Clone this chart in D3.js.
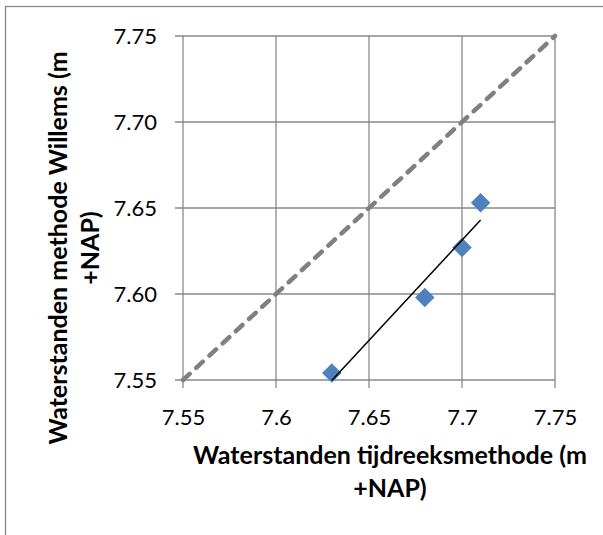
<!DOCTYPE html>
<html>
<head>
<meta charset="utf-8">
<style>
  body { margin: 0; background: #fff; }
  svg { display: block; }
  text { font-family: Lato, "Open Sans", sans-serif; fill: #000; }
</style>
</head>
<body>
<div id="scatter"></div>
<script src="https://cdn.jsdelivr.net/npm/d3@7/dist/d3.min.js"></script>
<script>
// data
var xTicks = [7.55, 7.60, 7.65, 7.70, 7.75];
var xTickLabels = ["7.55", "7.6", "7.65", "7.7", "7.75"];
var yTicks = [7.55, 7.60, 7.65, 7.70, 7.75];
var yTickLabels = ["7.55", "7.60", "7.65", "7.70", "7.75"];
var tijdreeks = [7.63, 7.68, 7.70, 7.71];
var willems = [7.554, 7.598, 7.627, 7.653];
var eenOpEen = [7.55, 7.75];

var W = 603, H = 535;
var plot = {left: 183, right: 555, top: 36, bottom: 380};

var svg = d3.select("#scatter").append("svg")
    .attr("width", W)
    .attr("height", H);

// chart border (right and bottom edge fall outside the picture)
svg.append("rect")
    .attr("x", 5.5).attr("y", 6.5)
    .attr("width", W + 20).attr("height", H + 20)
    .attr("fill", "none")
    .attr("stroke", "#878787")
    .attr("stroke-width", 1.3);

var x = d3.scaleLinear().domain([7.55, 7.75]).range([plot.left, plot.right]);
var y = d3.scaleLinear().domain([7.55, 7.75]).range([plot.bottom, plot.top]);

// gridlines
var grid = svg.append("g").attr("stroke", "#898989").attr("stroke-width", 1.3);
grid.selectAll(".vx").data(xTicks).enter().append("line")
    .attr("x1", function(d) { return x(d); })
    .attr("x2", function(d) { return x(d); })
    .attr("y1", plot.top)
    .attr("y2", plot.bottom + 8);
grid.selectAll(".hy").data(yTicks).enter().append("line")
    .attr("x1", plot.left - 8)
    .attr("x2", plot.right)
    .attr("y1", function(d) { return y(d); })
    .attr("y2", function(d) { return y(d); });

// tick labels via d3 axes, lines hidden
var xAxis = svg.append("g")
    .attr("transform", "translate(0," + plot.bottom + ")")
    .call(d3.axisBottom(x).tickValues(xTicks)
      .tickFormat(function(d, i) { return xTickLabels[i]; })
      .tickSize(0).tickPadding(29));
var yAxis = svg.append("g")
    .attr("transform", "translate(" + plot.left + ",0)")
    .call(d3.axisLeft(y).tickValues(yTicks)
      .tickFormat(function(d, i) { return yTickLabels[i]; })
      .tickSize(0).tickPadding(26));
[xAxis, yAxis].forEach(function(a) {
  a.select(".domain").remove();
  a.selectAll("text")
      .style("font-family", "Lato, 'Open Sans', sans-serif")
      .style("font-size", "22px")
      .attr("fill", "#000");
});

// 1:1 line
svg.append("line")
    .attr("x1", x(eenOpEen[0])).attr("y1", y(eenOpEen[0]))
    .attr("x2", x(eenOpEen[1])).attr("y2", y(eenOpEen[1]))
    .attr("stroke", "#808080")
    .attr("stroke-width", 4.5)
    .attr("stroke-linecap", "round")
    .attr("stroke-dasharray", "9,9");

// points
var pts = tijdreeks.map(function(v, i) { return [v, willems[i]]; });
svg.append("g").selectAll("path").data(pts).enter().append("path")
    .attr("d", d3.symbol().type(d3.symbolSquare).size(190))
    .attr("transform", function(d) { return "translate(" + x(d[0]) + "," + y(d[1]) + ") rotate(45)"; })
    .attr("fill", "#4f81bd");

// linear trend line
var mx = d3.mean(tijdreeks), my = d3.mean(willems);
var sxy = d3.sum(pts, function(d) { return (d[0] - mx) * (d[1] - my); });
var sxx = d3.sum(tijdreeks, function(v) { return (v - mx) * (v - mx); });
var b = sxy / sxx, a0 = my - b * mx;
var x0 = d3.min(tijdreeks), x1 = d3.max(tijdreeks);
svg.append("line")
    .attr("x1", x(x0)).attr("y1", y(a0 + b * x0))
    .attr("x2", x(x1)).attr("y2", y(a0 + b * x1))
    .attr("stroke", "#000")
    .attr("stroke-width", 1.5);

// axis titles
var xt = svg.append("text")
    .attr("text-anchor", "middle")
    .style("font-size", "25px")
    .style("font-weight", "bold");
xt.append("tspan").attr("x", 390).attr("y", 464).text("Waterstanden tijdreeksmethode (m");
xt.append("tspan").attr("x", 390).attr("y", 497).text("+NAP)");

var yt = svg.append("text")
    .attr("transform", "translate(0,248) rotate(-90)")
    .attr("text-anchor", "middle")
    .style("font-size", "25px")
    .style("font-weight", "bold");
yt.append("tspan").attr("x", 0).attr("y", 67).text("Waterstanden methode Willems (m");
yt.append("tspan").attr("x", 0).attr("y", 99).text("+NAP)");
</script>
</body>
</html>
